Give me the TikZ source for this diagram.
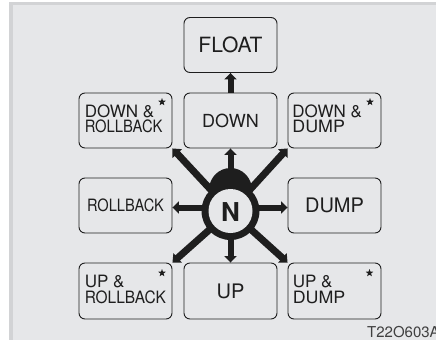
\documentclass[tikz,border=0pt]{standalone}
\usepackage{fontspec}
\setmainfont{TeX Gyre Heros}
\usetikzlibrary{arrows.meta,shapes.geometric,calc}
\definecolor{bgin}{HTML}{E6E7E9}
\definecolor{bgline}{HTML}{D2D3D5}
\definecolor{ink}{HTML}{1E1E1E}
\tikzset{
  box/.style={draw=ink, line width=0.9pt, rounded corners=6pt, minimum width=93pt, minimum height=55pt, inner sep=0pt},
  big/.style={text=ink, inner sep=0pt, font=\fontsize{20}{20}\selectfont},
  small/.style={text=ink, inner sep=0pt, anchor=base west, font=\fontsize{17}{17}\selectfont},
  fat/.style={line width=7pt, ink, -{Triangle[width=12.5pt,length=7pt]}},
  mid/.style={line width=6pt, ink, -{Triangle[width=12pt,length=6.5pt]}},
  starmark/.style={star, star points=5, star point ratio=2.4, fill=ink, draw=none, minimum size=8pt, inner sep=0pt}
}
\begin{document}
\begin{tikzpicture}[x=1pt,y=-1pt]
\useasboundingbox (0,0) rectangle (436,340);
\fill[white] (0,0) rectangle (436,340);
\fill[bgline] (9.3,1.7) rectangle (436,339.5);
\fill[bgin] (12.7,5) rectangle (436,339.5);

% boxes
\node[box] (float) at (230.5,45) {};
\node[box] (dr) at (125.5,120.5) {};
\node[box] (down) at (230.5,120.5) {};
\node[box] (dd) at (334.5,120.5) {};
\node[box] (rb) at (125.5,205.5) {};
\node[box] (dump) at (334.5,205.5) {};
\node[box, minimum height=56pt] (ur) at (125.5,291) {};
\node[box, minimum height=56pt] (up) at (230.5,291) {};
\node[box, minimum height=56pt] (ud) at (334.5,291) {};

% single labels
\node[big, font=\fontsize{21}{21}\selectfont] (tfloat) at (float) {FLOAT};
\node[big, font=\fontsize{18}{18}\selectfont] (tdown) at (down) {DOWN};
\node[big] (tdump) at (dump) {DUMP};
\node[big] (tup) at (up) {UP};
\node[big, font=\fontsize{17}{17}\selectfont] (trb) at (rb) {\scalebox{0.86}[1]{ROLLBACK}};

% two-line labels
\node[small] (tdr1) at ($(dr.north west)+(6,25)$) {DOWN \&};
\node[small] (tdr2) at ($(dr.north west)+(6,40)$) {\scalebox{0.87}[1]{ROLLBACK}};
\node[small] (tdd1) at ($(dd.north west)+(4.7,25.3)$) {DOWN \&};
\node[small] (tdd2) at ($(dd.north west)+(4.7,40)$) {\scalebox{1.05}[1]{DUMP}};
\node[small] (tur1) at ($(ur.north west)+(6,25.3)$) {UP \&};
\node[small] (tur2) at ($(ur.north west)+(6,41)$) {\scalebox{0.91}[1]{ROLLBACK}};
\node[small] (tud1) at ($(ud.north west)+(5,25.3)$) {UP \&};
\node[small] (tud2) at ($(ud.north west)+(5,41)$) {\scalebox{1.05}[1]{DUMP}};

% stars
\node[starmark] (s1) at (162,102) {};
\node[starmark] (s2) at (370,102) {};
\node[starmark] (s3) at (162,273) {};
\node[starmark] (s4) at (369.5,273) {};

% knob centre
\coordinate (k) at (230.5,211);
\coordinate (kl) at (230.5,207.5);

% connectors
\draw[fat] (k) -- (dr.south east);
\draw[fat] (k) -- (dd.south west);
\draw[fat] (k) -- (ur.north east);
\draw[fat] (k) -- (ud.north west);
\draw[mid] (k) -- (down.south);
\draw[mid] (k) -- (up.north);
\draw[mid] (kl) -- (kl -| rb.east);
\draw[mid] (kl) -- (kl -| dump.west);
\draw[mid] (down.north) -- (float.south);

% knob
\fill[ink] (230.5,190) ellipse [x radius=21.5pt, y radius=22pt];
\fill[ink] (k) circle [radius=29pt];
\fill[bgin] (k) circle [radius=22pt];
\node[text=ink, inner sep=0pt, font=\bfseries\fontsize{26}{26}\selectfont] (n) at (230.5,212.5) {N};

% code
\node[anchor=base west, inner sep=0pt, text=ink!85, font=\fontsize{15}{15}\selectfont] (code) at (367,337) {T22O603A};
\end{tikzpicture}
\end{document}
